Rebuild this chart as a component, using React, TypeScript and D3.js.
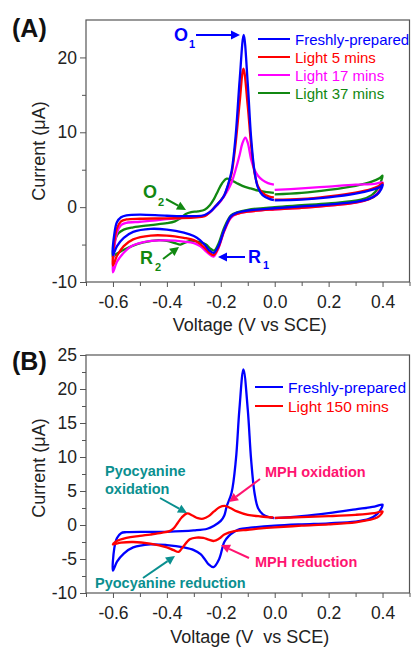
import React, { useEffect, useRef } from "react";
import * as d3 from "d3";

type Pt = [number, number];

const BLUE = "#0000ff";
const RED = "#ff0000";
const MAGENTA = "#ff00ff";
const GREEN = "#118811";
const TEAL = "#0a8f8f";
const PINK = "#ff1470";
const FONT = "'Liberation Sans', Arial, Helvetica, sans-serif";

const xTicks = [-0.6, -0.4, -0.2, 0.0, 0.2, 0.4];
const xMinor = [-0.7, -0.5, -0.3, -0.1, 0.1, 0.3, 0.5];
const yTicksA = [-10, 0, 10, 20];
const yMinorA = [-5, 5, 15, 25];
const yTicksB = [-10, -5, 0, 5, 10, 15, 20, 25];
const yMinorB = [-7.5, -2.5, 2.5, 7.5, 12.5, 17.5, 22.5];

const legendA = ["Freshly-prepared", "Light 5 mins", "Light 17 mins", "Light 37 mins"];
const legendB = ["Freshly-prepared", "Light 150 mins"];

// panel A: each scan starts at 0.0 V, goes to 0.4, back to -0.6, then up to 0.0
const freshA: Pt[] = [
  [0.0, 0.9], [0.1, 1.0], [0.2, 1.3], [0.3, 1.8], [0.36, 2.3], [0.39, 2.7], [0.4, 3.0],
  [0.395, 2.4], [0.38, 1.7], [0.35, 1.1], [0.3, 0.7], [0.2, 0.35], [0.1, 0.1], [0.0, -0.15],
  [-0.1, -0.45], [-0.14, -0.75], [-0.162, -1.2], [-0.187, -3.0], [-0.21, -5.3], [-0.227, -6.1],
  [-0.242, -5.8], [-0.258, -5.1], [-0.277, -4.4], [-0.3, -3.85], [-0.337, -3.4], [-0.4, -3.0],
  [-0.46, -2.9], [-0.525, -3.3], [-0.56, -4.1], [-0.585, -5.2], [-0.6, -6.4],
  [-0.595, -3.6], [-0.585, -2.0], [-0.57, -1.35], [-0.55, -1.1], [-0.5, -1.0], [-0.4, -1.15],
  [-0.3, -1.2], [-0.26, -1.05], [-0.235, -0.5], [-0.215, 0.3], [-0.2, 0.9], [-0.187, 1.6],
  [-0.175, 2.8], [-0.16, 4.8], [-0.145, 9.5], [-0.13, 17], [-0.115, 23], [-0.1, 16.5],
  [-0.088, 9.5], [-0.075, 4.8], [-0.062, 2.6], [-0.045, 1.6], [-0.02, 1.1], [-0.003, 0.95],
];
const light5A: Pt[] = [
  [0.0, 1.0], [0.1, 1.1], [0.2, 1.45], [0.3, 1.95], [0.36, 2.45], [0.39, 2.9], [0.4, 3.2],
  [0.395, 2.6], [0.38, 1.7], [0.35, 1.05], [0.3, 0.6], [0.2, 0.2], [0.1, -0.1], [0.0, -0.3],
  [-0.1, -0.6], [-0.14, -0.9], [-0.162, -1.3], [-0.187, -3.1], [-0.21, -5.5], [-0.227, -6.4],
  [-0.242, -6.1], [-0.258, -5.5], [-0.277, -4.9], [-0.3, -4.4], [-0.337, -4.1], [-0.4, -3.8],
  [-0.46, -3.8], [-0.525, -4.3], [-0.56, -5.2], [-0.585, -6.5], [-0.6, -7.8],
  [-0.595, -4.7], [-0.585, -2.8], [-0.57, -1.9], [-0.55, -1.65], [-0.5, -1.55], [-0.4, -1.5],
  [-0.3, -1.4], [-0.26, -1.2], [-0.238, -0.6], [-0.218, 0.2], [-0.2, 0.9], [-0.187, 1.6],
  [-0.175, 2.7], [-0.16, 4.5], [-0.145, 8.5], [-0.13, 14], [-0.116, 18.5], [-0.1, 13.5],
  [-0.088, 8.5], [-0.075, 4.6], [-0.062, 2.8], [-0.045, 1.9], [-0.02, 1.4], [-0.003, 1.3],
];
const light17A: Pt[] = [
  [0.0, 2.3], [0.1, 2.5], [0.2, 2.75], [0.3, 3.0], [0.37, 3.1], [0.4, 3.3],
  [0.395, 2.7], [0.38, 1.8], [0.35, 1.1], [0.3, 0.6], [0.2, 0.2], [0.1, -0.1], [0.0, -0.3],
  [-0.1, -0.6], [-0.14, -0.9], [-0.162, -1.4], [-0.187, -3.2], [-0.21, -5.6], [-0.227, -6.6],
  [-0.242, -6.3], [-0.258, -5.8], [-0.277, -5.2], [-0.3, -4.8], [-0.337, -4.6], [-0.4, -4.45],
  [-0.46, -4.5], [-0.525, -5.1], [-0.56, -6.1], [-0.585, -7.3], [-0.6, -8.7],
  [-0.595, -5.5], [-0.585, -3.4], [-0.57, -2.4], [-0.55, -2.1], [-0.5, -1.95], [-0.45, -1.8],
  [-0.4, -1.6], [-0.35, -1.45], [-0.3, -1.3], [-0.26, -1.15], [-0.238, -0.6], [-0.218, 0.1],
  [-0.2, 0.8], [-0.18, 1.9], [-0.16, 3.3], [-0.145, 5.0], [-0.13, 7.0], [-0.12, 8.5],
  [-0.109, 9.3], [-0.1, 8.6], [-0.087, 6.3], [-0.075, 5.0], [-0.062, 4.2], [-0.045, 3.6],
  [-0.025, 3.2], [-0.003, 3.0],
];
const light37A: Pt[] = [
  [0.0, 1.7], [0.1, 1.9], [0.2, 2.3], [0.3, 2.85], [0.36, 3.4], [0.39, 3.9], [0.4, 4.2],
  [0.395, 3.5], [0.385, 2.6], [0.36, 1.6], [0.32, 1.0], [0.2, 0.5], [0.1, 0.25], [0.0, 0.0],
  [-0.1, -0.35], [-0.14, -0.7], [-0.162, -1.1], [-0.187, -2.7], [-0.21, -5.0], [-0.225, -5.8],
  [-0.24, -5.5], [-0.255, -5.0], [-0.275, -4.7], [-0.31, -4.5], [-0.33, -4.7], [-0.35, -5.0],
  [-0.37, -4.8], [-0.4, -4.5], [-0.43, -4.4], [-0.487, -4.7], [-0.53, -5.2], [-0.565, -5.8],
  [-0.59, -6.3], [-0.6, -6.7],
  [-0.595, -4.8], [-0.58, -3.5], [-0.56, -3.0], [-0.525, -2.7], [-0.46, -2.4], [-0.4, -2.15],
  [-0.37, -1.9], [-0.35, -1.5], [-0.33, -0.9], [-0.31, -0.65], [-0.285, -0.55], [-0.26, -0.35],
  [-0.24, 0.3], [-0.225, 1.1], [-0.21, 2.2], [-0.195, 3.2], [-0.178, 3.8], [-0.16, 3.6],
  [-0.14, 3.2], [-0.12, 2.85], [-0.09, 2.5], [-0.06, 2.2], [-0.03, 2.0], [-0.003, 1.9],
];

// panel B
const freshB: Pt[] = [
  [0.0, 1.0], [0.1, 1.3], [0.2, 1.75], [0.3, 2.3], [0.37, 2.7], [0.4, 3.0],
  [0.395, 2.4], [0.38, 1.6], [0.35, 0.9], [0.3, 0.5], [0.2, 0.25], [0.1, 0.1], [0.0, -0.1],
  [-0.09, -0.4], [-0.13, -0.6], [-0.15, -1.0], [-0.17, -1.6], [-0.187, -2.5], [-0.206, -5.0],
  [-0.227, -6.2], [-0.245, -5.8], [-0.26, -5.0], [-0.275, -4.3], [-0.3, -3.7], [-0.337, -3.3],
  [-0.4, -2.95], [-0.462, -2.85], [-0.525, -3.3], [-0.56, -4.2], [-0.585, -5.4], [-0.6, -6.7],
  [-0.595, -3.4], [-0.585, -1.9], [-0.57, -1.2], [-0.55, -1.05], [-0.4, -1.0], [-0.3, -0.8],
  [-0.25, -0.55], [-0.225, -0.1], [-0.2, 0.6], [-0.187, 1.4], [-0.178, 2.75], [-0.16, 4.75],
  [-0.144, 9.6], [-0.131, 17], [-0.116, 22.9], [-0.1, 17], [-0.0875, 9.6], [-0.075, 4.75],
  [-0.062, 2.5], [-0.044, 1.57], [-0.02, 1.15], [-0.003, 1.0],
];
const light150B: Pt[] = [
  [0.0, 1.05], [0.1, 1.15], [0.2, 1.3], [0.3, 1.5], [0.37, 1.75], [0.4, 2.0],
  [0.395, 1.6], [0.38, 1.1], [0.35, 0.75], [0.3, 0.4], [0.2, 0.1], [0.1, -0.1], [0.0, -0.35],
  [-0.05, -0.5], [-0.1, -0.7], [-0.15, -0.9], [-0.187, -1.4], [-0.206, -2.0], [-0.225, -2.35],
  [-0.245, -2.15], [-0.265, -1.9], [-0.29, -1.85], [-0.315, -2.1], [-0.34, -3.2], [-0.356, -3.95],
  [-0.375, -3.7], [-0.4, -3.3], [-0.462, -2.75], [-0.525, -2.5], [-0.57, -2.6], [-0.6, -2.85],
  [-0.59, -2.45], [-0.55, -1.9], [-0.5, -1.6], [-0.462, -1.4], [-0.42, -1.15], [-0.39, -0.9],
  [-0.375, -0.5], [-0.36, 0.3], [-0.345, 1.1], [-0.325, 1.7], [-0.305, 1.4], [-0.285, 1.0],
  [-0.265, 0.93], [-0.245, 1.3], [-0.225, 2.0], [-0.205, 2.6], [-0.185, 2.8], [-0.165, 2.5],
  [-0.14, 2.0], [-0.1, 1.5], [-0.05, 1.25], [-0.005, 1.1],
];

type Sel = d3.Selection<SVGGElement, unknown, null, undefined>;

function arrow(g: Sel, x1: number, y1: number, x2: number, y2: number, color: string) {
  const a = Math.atan2(y2 - y1, x2 - x1);
  const hl = 9, hw = 4.5;
  const bx = x2 - hl * Math.cos(a), by = y2 - hl * Math.sin(a);
  g.append("line")
    .attr("x1", x1).attr("y1", y1).attr("x2", bx).attr("y2", by)
    .attr("stroke", color).attr("stroke-width", 2);
  g.append("path")
    .attr("d", `M${x2},${y2}L${bx - hw * Math.sin(a)},${by + hw * Math.cos(a)}L${bx + hw * Math.sin(a)},${by - hw * Math.cos(a)}Z`)
    .attr("fill", color);
}

function label(g: Sel, x: number, y: number, txt: string, color: string, size: number, bold = true) {
  return g.append("text")
    .attr("x", x).attr("y", y)
    .attr("fill", color)
    .attr("font-size", size)
    .attr("font-weight", bold ? "bold" : "normal")
    .text(txt);
}

function panel(svg: d3.Selection<SVGSVGElement, unknown, null, undefined>, top: number, bottom: number,
  yMajor: number[], yMinor: number[], series: Pt[][], colors: string[], titleY: number, voltText: string, voltY: number) {
  const left = 86, right = 409.5;
  const x = d3.scaleLinear().domain([-0.7, 0.5]).range([left, right]);
  const y = d3.scaleLinear().domain([-10, 25]).range([bottom, top]);
  const g = svg.append("g").attr("font-family", FONT);

  const xa = g.append("g").attr("transform", `translate(0,${bottom})`)
    .call(d3.axisBottom(x).tickValues(xTicks).tickSize(5).tickSizeOuter(0).tickFormat(d => (d as number).toFixed(1)));
  g.append("g").attr("transform", `translate(0,${bottom})`)
    .call(d3.axisBottom(x).tickValues(xMinor).tickSize(4).tickSizeOuter(0).tickFormat(() => ""));
  const ya = g.append("g").attr("transform", `translate(${left},0)`)
    .call(d3.axisLeft(y).tickValues(yMajor).tickSize(6).tickSizeOuter(0).tickFormat(d => String(d)));
  g.append("g").attr("transform", `translate(${left},0)`)
    .call(d3.axisLeft(y).tickValues(yMinor.filter(v => v < 25)).tickSize(4).tickSizeOuter(0).tickFormat(() => ""));
  g.selectAll(".domain").remove();
  g.selectAll(".tick line").attr("stroke", "#555");
  xa.selectAll("text").attr("font-size", 17.5).attr("fill", "#222").attr("dy", "1.05em").attr("font-family", FONT);
  ya.selectAll("text").attr("font-size", 17.5).attr("fill", "#222").attr("x", -9).attr("font-family", FONT);

  g.append("rect")
    .attr("x", left).attr("y", top).attr("width", right - left).attr("height", bottom - top)
    .attr("fill", "none").attr("stroke", "#555").attr("stroke-width", 1.2);

  const line = d3.line<Pt>().x(d => x(d[0])).y(d => y(d[1])).curve(d3.curveCatmullRom.alpha(0.5));
  series.forEach((s, i) => {
    g.append("path").attr("d", line(s) ?? "").attr("fill", "none")
      .attr("stroke", colors[i]).attr("stroke-width", 2.3).attr("stroke-linejoin", "round");
  });

  g.append("text")
    .attr("transform", `translate(45,${titleY}) rotate(-90)`)
    .attr("text-anchor", "middle").attr("font-size", 18).attr("fill", "#222")
    .text("Current (\u03bcA)");
  g.append("text")
    .attr("x", (left + right) / 2 + 2).attr("y", voltY)
    .attr("text-anchor", "middle").attr("font-size", 18).attr("fill", "#222")
    .attr("xml:space", "preserve").style("white-space", "pre")
    .text(voltText);
  return g;
}

export default function App() {
  const ref = useRef<SVGSVGElement>(null);
  useEffect(() => {
    const svg = d3.select(ref.current as SVGSVGElement);
    svg.selectAll("*").remove();

    // ---- panel A
    const colorsA = [GREEN, MAGENTA, RED, BLUE];
    const gA = panel(svg, 20, 282, yTicksA, yMinorA, [light37A, light17A, light5A, freshA], colorsA, 151, "Voltage (V vs SCE)", 331);
    label(gA, 12, 37, "(A)", "#111", 25);
    const colA = [BLUE, RED, MAGENTA, GREEN];
    legendA.forEach((t, i) => {
      const yy = 39 + i * 18;
      gA.append("line").attr("x1", 258).attr("x2", 290).attr("y1", yy).attr("y2", yy)
        .attr("stroke", colA[i]).attr("stroke-width", 2);
      label(gA, 295, yy + 5.5, t, colA[i], 15, false);
    });
    label(gA, 174, 41, "O", BLUE, 18);
    label(gA, 189, 48, "1", BLUE, 11);
    arrow(gA, 196, 35, 240, 35, BLUE);
    label(gA, 143, 198, "O", GREEN, 18);
    label(gA, 158, 206, "2", GREEN, 11);
    arrow(gA, 166, 199, 186, 210, GREEN);
    label(gA, 140, 264, "R", GREEN, 18);
    label(gA, 155, 271, "2", GREEN, 11);
    arrow(gA, 163, 259, 179, 247, GREEN);
    arrow(gA, 245, 257, 218, 257, BLUE);
    label(gA, 248, 263, "R", BLUE, 18);
    label(gA, 263, 269, "1", BLUE, 11);

    // ---- panel B
    const gB = panel(svg, 355, 593, yTicksB, yMinorB, [freshB, light150B], [BLUE, RED], 468, "Voltage (V  vs SCE)", 643);
    label(gB, 12, 370, "(B)", "#111", 25);
    const colB = [BLUE, RED];
    legendB.forEach((t, i) => {
      const yy = 387 + i * 19;
      gB.append("line").attr("x1", 255).attr("x2", 283).attr("y1", yy).attr("y2", yy)
        .attr("stroke", colB[i]).attr("stroke-width", 2);
      label(gB, 288, yy + 5.5, t, colB[i], 15.5, false);
    });
    label(gB, 105, 476, "Pyocyanine", TEAL, 14.5);
    label(gB, 105, 494, "oxidation", TEAL, 14.5);
    arrow(gB, 160, 498, 187, 513, TEAL);
    label(gB, 265, 477, "MPH oxidation", PINK, 14.5);
    arrow(gB, 260, 479, 229, 502, PINK);
    label(gB, 255, 567, "MPH reduction", PINK, 14.5);
    arrow(gB, 249, 558, 221, 545, PINK);
    label(gB, 95, 588, "Pyocyanine reduction", TEAL, 14.5);
    arrow(gB, 143, 578, 175, 556, TEAL);
  }, []);

  return (
    <svg ref={ref} width={411} height={647}
      style={{ position: "absolute", left: 0, top: 0, display: "block", background: "#fff" }} />
  );
}
